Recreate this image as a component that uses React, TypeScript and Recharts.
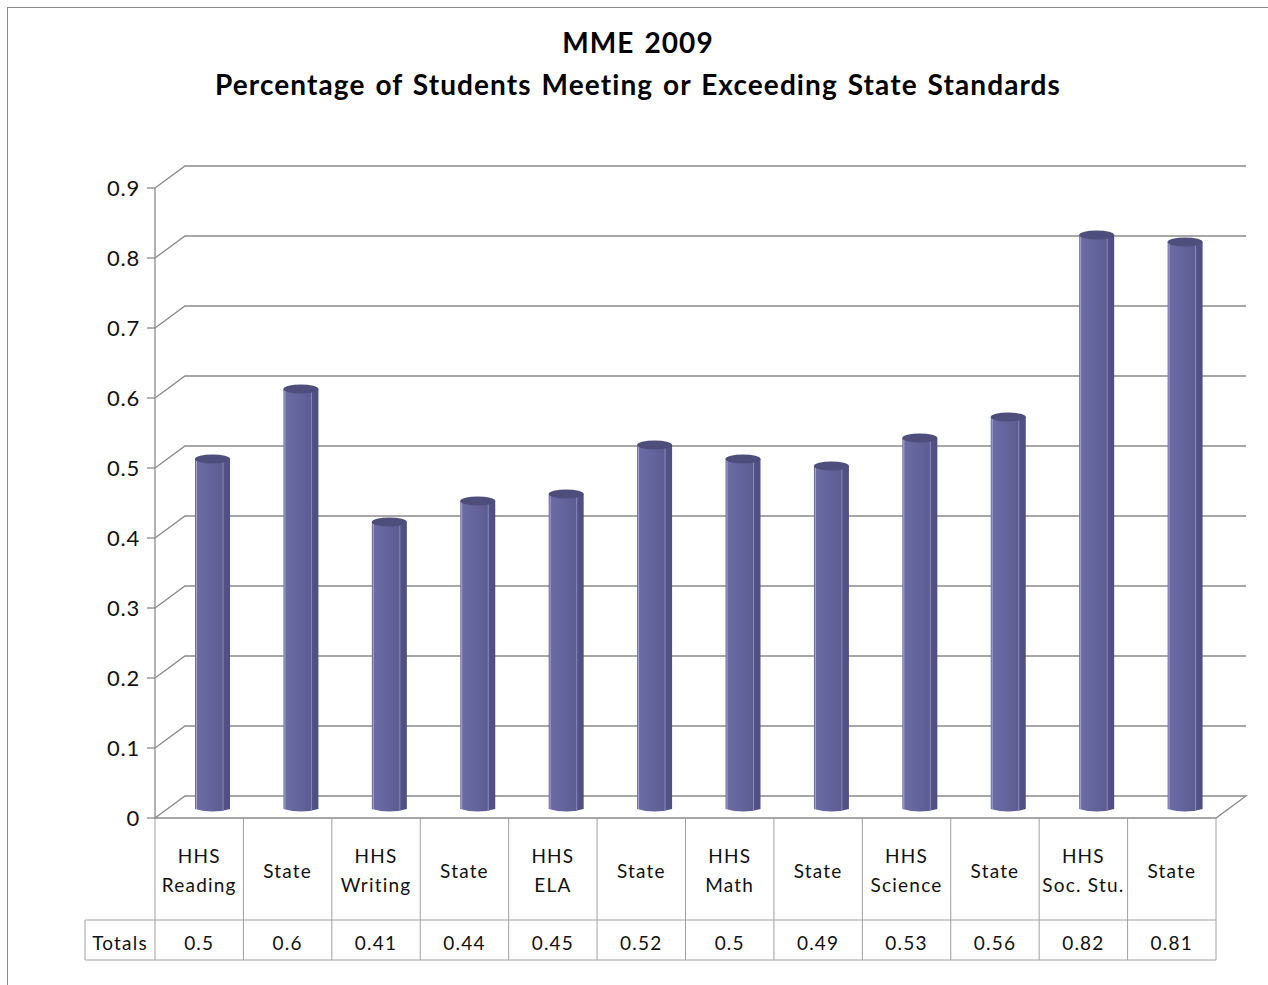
import { BarChart, Bar, XAxis, YAxis, CartesianGrid } from 'recharts';

const categories = [
  'HHS\nReading', 'State',
  'HHS\nWriting', 'State',
  'HHS\nELA', 'State',
  'HHS\nMath', 'State',
  'HHS\nScience', 'State',
  'HHS\nSoc. Stu.', 'State',
];
const totals = [0.5, 0.6, 0.41, 0.44, 0.45, 0.52, 0.5, 0.49, 0.53, 0.56, 0.82, 0.81];
const yTicks = [0, 0.1, 0.2, 0.3, 0.4, 0.5, 0.6, 0.7, 0.8, 0.9];
const titleLines = ['MME 2009', 'Percentage of Students Meeting or Exceeding State Standards'];
const rowHeader = 'Totals';

const data = categories.map((name, i) => ({ name, value: totals[i] }));

// layout
const W = 1260;
const H = 977;
const MARGIN = { top: 180, right: 52, bottom: 25, left: 87 };
const Y_AXIS_W = 60;
const X_AXIS_H = 142;
const PLOT_LEFT = MARGIN.left + Y_AXIS_W;
const PLOT_RIGHT = W - MARGIN.right;
const PLOT_BOTTOM = H - MARGIN.bottom - X_AXIS_H;
const COL_W = (PLOT_RIGHT - PLOT_LEFT) / categories.length;
const ROW1_H = 102;
const ROW2_H = 40;
const HEADER_W = 70;

// fake 3d depth
const DX = 30;
const DY = 22;
const BX = 13;
const BY = 9;

const FONT = 'Lato, "Open Sans", sans-serif';
const GRID = '#8a8a8a';
const TABLE_LINE = '#a0a0a0';

const renderGridLine = (p: any) => {
  const { x1, x2, y1 } = p;
  const floor = Math.abs(y1 - PLOT_BOTTOM) < 1;
  let d = `M${x1},${y1} L${x1 + DX},${y1 - DY} L${x2 + DX},${y1 - DY}`;
  if (floor) d += ` L${x2},${y1} Z`;
  return <path key={p.key ?? `g-${y1}`} d={d} stroke={GRID} strokeWidth={1.3} fill="none" />;
};

const CylinderBar = (props: any) => {
  const { x, y, width, height } = props;
  if (!height || height <= 0) return null;
  const left = x + BX;
  const top = y - BY;
  const bottom = y + height - BY;
  const w = width;
  const side = 7;
  return (
    <g>
      <path
        d={`M${left},${top} L${left},${bottom} Q${left + w / 2},${bottom + 5} ${left + w},${bottom} L${left + w},${top} Z`}
        fill="url(#barBody)"
      />
      <line x1={left + 1.5} y1={top} x2={left + 1.5} y2={bottom} stroke="#a4a4d0" strokeWidth={1} />
      <line x1={left + w - side} y1={top + 2} x2={left + w - side} y2={bottom + 2} stroke="#8a8aba" strokeWidth={1} />
      <ellipse cx={left + w / 2} cy={top} rx={w / 2} ry={4.5} fill="#4e4e7c" />
    </g>
  );
};

const TableTick = (props: any) => {
  const { x, index } = props;
  const left = x - COL_W / 2;
  const right = x + COL_W / 2;
  const y0 = PLOT_BOTTOM;
  const y1 = y0 + ROW1_H;
  const y2 = y1 + ROW2_H;
  const lines = String(categories[index]).split('\n');
  const textStyle = { fontFamily: FONT, fontSize: 19, fill: '#111', letterSpacing: 1.2 };
  return (
    <g>
      {index === 0 && (
        <g>
          <line x1={left} y1={y0} x2={left} y2={y2} stroke={TABLE_LINE} />
          <line x1={left - HEADER_W} y1={y1} x2={left} y2={y1} stroke={TABLE_LINE} />
          <line x1={left - HEADER_W} y1={y2} x2={left} y2={y2} stroke={TABLE_LINE} />
          <line x1={left - HEADER_W} y1={y1} x2={left - HEADER_W} y2={y2} stroke={TABLE_LINE} />
          <text x={left - HEADER_W / 2} y={(y1 + y2) / 2 + 2} textAnchor="middle" dominantBaseline="central" style={textStyle}>
            {rowHeader}
          </text>
        </g>
      )}
      <line x1={right} y1={y0} x2={right} y2={y2} stroke={TABLE_LINE} />
      <line x1={left} y1={y1} x2={right} y2={y1} stroke={TABLE_LINE} />
      <line x1={left} y1={y2} x2={right} y2={y2} stroke={TABLE_LINE} />
      {lines.map((ln, i) => (
        <text
          key={i}
          x={x}
          y={(y0 + y1) / 2 + 1 + (i - (lines.length - 1) / 2) * 29}
          textAnchor="middle"
          dominantBaseline="central"
          style={textStyle}
        >
          {ln}
        </text>
      ))}
      <text x={x} y={(y1 + y2) / 2 + 2} textAnchor="middle" dominantBaseline="central" style={textStyle}>
        {totals[index]}
      </text>
    </g>
  );
};

export default function App() {
  return (
    <>
      <style>{'body{margin:0;overflow:hidden;background:#fff}'}</style>
      <div
        style={{
          position: 'absolute',
          left: 7,
          top: 7,
          width: W,
          height: H,
          borderLeft: `1px solid ${GRID}`,
          borderTop: `1px solid ${GRID}`,
        }}
      >
        <div
          style={{
            position: 'absolute',
            left: 0,
            top: 13,
            width: W,
            textAlign: 'center',
            fontFamily: FONT,
            fontWeight: 700,
            fontSize: 28,
            letterSpacing: 1.1,
            wordSpacing: 2,
            lineHeight: '42px',
            color: '#000',
          }}
        >
          {titleLines.map((t) => (
            <div key={t}>{t}</div>
          ))}
        </div>
        <BarChart width={W} height={H} data={data} margin={MARGIN}>
          <defs>
            <linearGradient id="barBody" x1="0" y1="0" x2="1" y2="0">
              <stop offset="0%" stopColor="#6d6da5" />
              <stop offset="45%" stopColor="#64649c" />
              <stop offset="79%" stopColor="#5c5c92" />
              <stop offset="80%" stopColor="#53538a" />
              <stop offset="100%" stopColor="#4e4e82" />
            </linearGradient>
          </defs>
          <CartesianGrid vertical={false} horizontal={renderGridLine} />
          <XAxis
            dataKey="name"
            height={X_AXIS_H}
            axisLine={false}
            tickLine={false}
            tickSize={0}
            interval={0}
            tick={<TableTick />}
          />
          <YAxis
            width={Y_AXIS_W}
            domain={[0, 0.9]}
            ticks={yTicks}
            interval={0}
            axisLine={{ stroke: GRID, strokeWidth: 1.3 }}
            tickLine={{ stroke: GRID, strokeWidth: 1.3 }}
            tickSize={8}
            tickMargin={7}
            tick={{ fill: '#111', fontSize: 22, fontFamily: FONT, letterSpacing: 0.8 }}
          />
          <Bar dataKey="value" barSize={35} shape={<CylinderBar />} isAnimationActive={false} />
        </BarChart>
      </div>
    </>
  );
}
